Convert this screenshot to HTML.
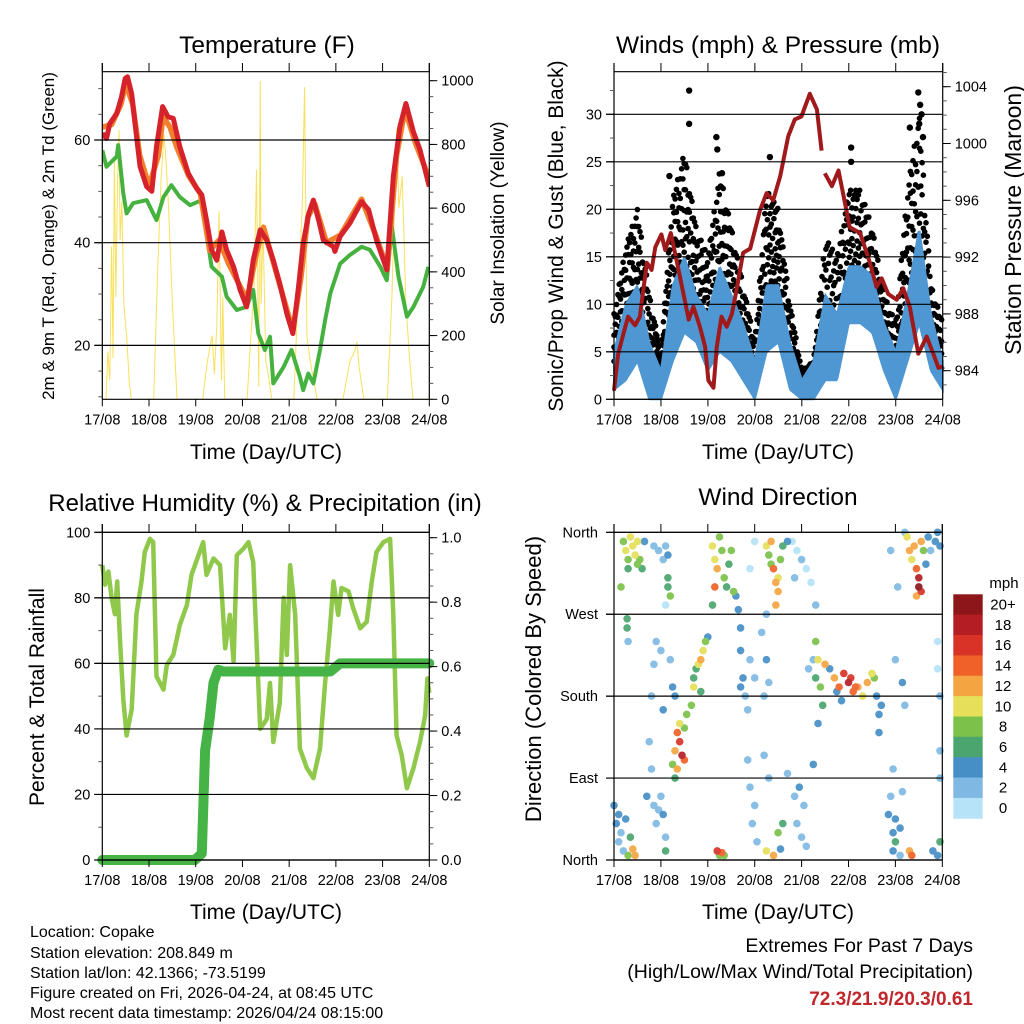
<!DOCTYPE html>
<html><head><meta charset="utf-8"><style>
html,body{margin:0;padding:0;background:#fff}
svg{display:block}
text{font-family:"Liberation Sans",sans-serif;fill:#000}
</style></head><body>
<svg id="s" width="1024" height="1024" viewBox="0 0 1024 1024" xmlns="http://www.w3.org/2000/svg">
<g id="txt">
<text x="267" y="53" font-size="24.5" text-anchor="middle">Temperature (F)</text>
<text x="778" y="53" font-size="24.5" text-anchor="middle">Winds (mph) &amp; Pressure (mb)</text>
<text x="265" y="511" font-size="24" text-anchor="middle">Relative Humidity (%) &amp; Precipitation (in)</text>
<text x="778" y="505" font-size="24.5" text-anchor="middle">Wind Direction</text>
<text x="266" y="459" font-size="21" text-anchor="middle">Time (Day/UTC)</text>
<text x="778" y="459" font-size="21" text-anchor="middle">Time (Day/UTC)</text>
<text x="266" y="919" font-size="21" text-anchor="middle">Time (Day/UTC)</text>
<text x="778" y="919" font-size="21" text-anchor="middle">Time (Day/UTC)</text>
<text transform="translate(54,236) rotate(-90)" font-size="17" text-anchor="middle">2m &amp; 9m T (Red, Orange) &amp; 2m Td (Green)</text>
<text transform="translate(504,223) rotate(-90)" font-size="19" text-anchor="middle">Solar Insolation (Yellow)</text>
<text transform="translate(563,236) rotate(-90)" font-size="21" text-anchor="middle">Sonic/Prop Wind &amp; Gust (Blue, Black)</text>
<text transform="translate(1021,220) rotate(-90)" font-size="23" text-anchor="middle">Station Pressure (Maroon)</text>
<text transform="translate(44,697) rotate(-90)" font-size="21" text-anchor="middle">Percent &amp; Total Rainfall</text>
<text transform="translate(541,679) rotate(-90)" font-size="22" text-anchor="middle">Direction (Colored By Speed)</text>
<text x="1004" y="588" font-size="15" text-anchor="middle">mph</text>
<g font-size="16">
<text x="30" y="937">Location: Copake</text>
<text x="30" y="958">Station elevation: 208.849 m</text>
<text x="30" y="978">Station lat/lon: 42.1366; -73.5199</text>
<text x="30" y="998">Figure created on Fri, 2026-04-24, at 08:45 UTC</text>
<text x="30" y="1018">Most recent data timestamp: 2026/04/24 08:15:00</text>
</g>
<text x="973" y="952" font-size="19.5" text-anchor="end">Extremes For Past 7 Days</text>
<text x="973" y="978" font-size="19.5" text-anchor="end">(High/Low/Max Wind/Total Precipitation)</text>
<text x="973" y="1005" font-size="19" font-weight="bold" text-anchor="end" style="fill:#c0282c">72.3/21.9/20.3/0.61</text>
</g>
</svg>
<script>
const days=['17/08','18/08','19/08','20/08','21/08','22/08','23/08','24/08'];
// Temperature 2m (red)
const tempT=[0,0.09,0.16,0.31,0.41,0.49,0.54,0.63,0.74,0.81,0.95,1.06,1.16,1.29,1.41,1.52,1.66,1.84,2.02,2.13,2.23,2.34,2.45,2.56,2.66,2.81,2.95,3.09,3.23,3.38,3.52,3.66,3.80,3.95,4.08,4.20,4.30,4.42,4.52,4.63,4.73,4.95,4.98,5.09,5.30,5.55,5.70,5.87,6.09,6.23,6.37,6.50,6.66,6.80,7.0];
const tempV=[61.3,60.3,63.2,65.2,68.4,72,72.3,69,60,54.8,50.9,50,58.7,66.5,64.5,64.2,58.7,53.5,50.6,49.3,44.4,38.6,36.6,42.1,38.6,35.3,30.8,27.5,36.6,42.5,40.5,36.6,32,26.2,22.3,31.4,39.9,45.7,48.3,44.4,40.5,39.2,38.3,41.2,43.8,48,46.4,40.5,34.7,52.9,62.6,67.1,61.6,58.1,50.9];
// Temperature 9m (orange)
const temp9T=[0,0.2,0.4,0.5,0.65,0.8,1.0,1.2,1.3,1.45,1.6,1.85,2.1,2.3,2.5,2.7,2.95,3.1,3.3,3.45,3.7,3.95,4.08,4.25,4.4,4.55,4.8,5.1,5.55,5.85,6.1,6.3,6.48,6.7,7.0];
const temp9V=[62.5,63,67,71,67,57,51,57,64.5,62.5,58.5,53,49.5,38.5,40.5,36,31.5,29,38,43,35,27,23,33,45,47.5,40,41.5,48.5,41.5,35,57,66,59.5,52.5];
// Dewpoint (green)
const dewT=[0,0.09,0.31,0.34,0.45,0.52,0.66,0.95,1.16,1.31,1.48,1.66,1.88,2.13,2.23,2.34,2.56,2.66,2.88,3.09,3.23,3.34,3.48,3.59,3.66,3.88,4.05,4.23,4.30,4.41,4.52,4.66,4.77,4.88,5.09,5.30,5.55,5.73,5.95,6.09,6.20,6.34,6.52,6.66,6.87,6.98];
const dewV=[58,54.8,56.8,59,49.6,45.7,47.7,48.3,44.4,48.9,51.2,48.9,47.3,48.3,41.8,35.3,33.4,29.5,26.9,27.5,30.8,22.3,19.1,21.7,12.6,15.8,19.1,13.9,11.3,14.5,12.6,19.1,24.9,30.1,35.9,37.6,39.2,38.6,35.3,32.7,43.1,33.4,25.6,27.5,31.4,35.3];
// Solar insolation (yellow)
const solT=[0,0.08,0.12,0.16,0.2,0.23,0.26,0.29,0.33,0.36,0.38,0.42,0.46,0.52,0.58,0.62,1.0,1.1,1.18,1.26,1.32,1.36,1.42,1.5,1.6,2.0,2.15,2.25,2.35,2.4,2.45,2.5,2.55,2.58,2.62,3.0,3.1,3.18,3.25,3.3,3.35,3.38,3.4,3.44,3.5,3.55,3.63,4.0,4.1,4.2,4.28,4.33,4.38,4.45,4.6,5.0,5.15,5.3,5.4,5.45,5.5,5.6,6.0,6.1,6.2,6.3,6.35,6.42,6.5,6.58,6.65,7.0];
const solV=[0,0,150,60,480,130,760,320,700,845,500,620,300,200,50,0,0,0,380,700,830,760,600,300,0,0,0,120,200,80,230,590,60,320,0,0,0,200,350,720,40,1000,300,550,120,80,0,0,0,360,600,980,200,120,0,0,0,120,150,180,100,0,0,0,320,850,600,700,300,120,0,0];
// Winds
const windT=[0,0.25,0.5,0.75,1,1.25,1.5,1.75,2,2.25,2.5,2.75,3,3.25,3.5,3.75,4,4.25,4.5,4.75,5,5.25,5.5,5.75,6,6.25,6.5,6.75,7];
const windLo=[1,2,4,0,0,4,7,6,3,5,4,2,0,5,6,1,0,0,2,2,8,8,7,3,0,4,8,3,1];
const windHi=[5,10,12,6,3,12,15,11,9,14,11,8,4,12,12,6,2,4,11,9,14,14,13,8,5,11,18,9,4];
const gustLo=[4,8,11,4,3,12,15,10,8,13,10,5,2,12,12,4,1,2,6,5,13,12,10,6,2,12,14,6,3];
const gustHi=[9,16,20,11,5,21,26,18,15,24,18,12,6,22,20,10,3,4,17,15,22,22,18,11,8,22,30,12,8];
const gustPeakT=[1.6,1.6,2.18,2.2,3.32,5.05,5.05,6.3,6.48,6.52,6.55,6.5,6.58,1.18,2.3];
const gustPeakV=[32.5,29,27.6,26.3,25.5,26.5,25,28.6,32.3,31,30,29,27.6,23.5,23.8];
// Pressure (null = gap)
const presT=[0,0.09,0.2,0.3,0.45,0.55,0.70,0.8,0.88,1.01,1.09,1.21,1.33,1.48,1.59,1.69,1.83,1.94,2.01,2.12,2.19,2.29,2.40,2.51,2.61,2.75,2.90,3.11,3.25,3.39,3.54,3.71,3.85,3.99,4.17,4.32,4.42,4.46,4.49,4.64,4.78,4.95,5.02,5.24,5.45,5.59,5.70,5.84,6.02,6.16,6.30,6.48,6.66,6.80,6.91,7.0];
const presV=[982.6,985.2,986.6,987.8,987.2,987.8,991.6,991.1,992.7,993.6,992.5,993.7,991.8,989.4,987.6,988.5,987.1,985.7,983.3,982.8,985.7,987.8,987.1,988.0,989.7,992.3,992.6,995.3,996.5,996.0,997.7,1000.5,1001.7,1001.9,1003.5,1002.4,999.5,null,997.9,997.0,998.1,995.3,994.1,993.7,991.6,989.9,990.5,989.4,989.0,989.8,988.5,985.2,986.4,985.2,984.2,984.3];
// Relative humidity
const rhT=[0,0.06,0.13,0.2,0.27,0.32,0.38,0.45,0.52,0.63,0.73,0.84,0.91,1.02,1.09,1.16,1.31,1.38,1.52,1.66,1.81,1.91,2.06,2.16,2.23,2.38,2.52,2.63,2.73,2.81,2.88,3.02,3.13,3.23,3.38,3.52,3.59,3.66,3.80,3.88,3.95,4.02,4.13,4.23,4.38,4.52,4.66,4.77,4.87,4.95,5.05,5.12,5.27,5.37,5.52,5.66,5.77,5.87,6.02,6.16,6.23,6.30,6.41,6.52,6.66,6.80,6.91,6.96,7.0];
const rhV=[90,84,88,80,75,85,66.6,49,38,46,75,85,94,98,97,56,52,59.5,62.6,71.7,77.8,87,93,97,87,92,90,64.6,74.8,60.5,93,95,97,91,40,43,54,36,48,80,62.6,90,74.8,34,28,25,34,54,70,85,74.8,83,82,76.8,70.7,72.7,85,94,97,98,74.8,38,32,21.9,28,36,44,55.4,51];
// Precipitation total
const prT=[0,1.98,2.13,2.2,2.3,2.38,2.48,2.59,4.88,5.09,7.0];
const prV=[0,0,0.02,0.34,0.44,0.55,0.59,0.585,0.585,0.61,0.61];
// Wind direction scatter: time (days), direction (deg), speed (mph)
const dirT=[0.2,0.25,0.3,0.3,0.35,0.4,0.45,0.5,0.5,0.55,0.6,0.65,0.15,0.28,0.28,0.3,0.0,0.05,0.1,0.1,0.15,0.2,0.3,0.4,0.45,0.35,0.25,0.85,0.95,1.05,1.1,1.15,1.15,1.15,1.2,1.1,0.75,0.8,0.85,0.9,0.95,1.0,1.05,0.7,0.85,0.8,0.9,1.0,1.05,1.1,1.1,1.25,1.3,1.35,1.4,1.45,1.5,1.35,1.4,1.3,1.5,1.55,1.3,1.25,1.2,1.65,1.7,1.7,1.8,1.85,1.9,1.95,2.0,1.75,1.85,2.1,2.15,2.2,2.25,2.3,2.35,2.4,2.45,2.5,2.55,2.6,2.1,2.15,2.65,2.2,2.25,2.3,2.35,2.7,2.7,2.75,2.7,2.8,2.85,2.9,3.0,2.85,2.9,3.0,2.95,3.05,3.0,2.9,3.25,3.3,3.35,3.4,3.45,3.5,3.55,3.6,3.5,3.45,3.35,3.7,3.25,3.25,3.4,3.5,3.6,3.55,3.15,3.25,3.3,3.2,3.2,3.3,3.8,3.9,4.0,4.1,4.2,3.85,4.3,3.85,3.9,4.0,4.05,4.1,3.95,3.7,4.25,4.3,4.35,4.3,4.4,4.45,4.25,4.15,4.35,4.5,4.6,4.7,4.8,4.9,5.0,5.1,5.2,5.3,5.4,5.5,5.55,4.75,5.05,5.15,4.85,5.6,5.65,5.7,5.65,5.95,5.9,5.85,5.95,6.0,6.1,6.0,6.1,5.95,6.0,5.9,6.05,6.15,6.2,6.15,6.25,6.3,6.35,6.4,6.45,6.5,6.5,6.55,6.45,6.55,6.6,6.65,6.7,6.75,6.3,6.35,6.2,6.85,6.9,6.95,6.8,6.9,6.95,6.95,6.9,6.95,6.95,6.9];
const dirV=[350,340,330,320,355,345,335,350,325,330,320,350,300,265,255,240,60,40,20,50,30,10,5,12,5,25,45,345,340,330,345,335,310,300,290,280,130,100,60,40,55,70,50,70,215,180,240,230,165,25,10,105,120,140,130,115,110,100,150,90,145,160,180,190,220,170,190,200,215,220,230,240,245,210,185,345,330,320,355,340,310,300,325,340,295,290,280,300,275,10,5,8,5,255,230,200,190,180,165,220,200,110,80,60,40,20,350,320,345,335,350,320,305,295,330,345,310,280,325,350,270,10,5,30,40,12,250,220,195,180,115,90,350,340,330,320,305,310,280,70,40,25,60,15,80,95,105,240,220,200,190,170,220,210,150,215,210,200,190,205,195,185,190,180,195,205,200,185,200,190,175,180,160,170,140,100,70,50,30,45,35,20,5,10,220,340,300,195,170,75,355,340,330,345,320,310,300,295,290,350,340,325,355,340,10,5,360,350,360,345,10,5,20,180,210,120,90,240];
const dirS=[8,9,7,6,10,10,9,10,8,7,6,3,8,6,6,1,4,4,2,3,2,2,8,12,12,6,4,1,1,1,2,4,6,6,8,0,2,1,2,2,2,2,3,4,1,2,2,1,4,2,6,8,12,14,16,18,14,12,10,6,8,8,4,4,1,8,10,6,10,12,10,8,4,6,6,10,10,12,8,7,8,6,6,7,8,4,5,14,3,16,8,14,7,4,4,4,4,2,1,2,1,1,2,2,2,1,0,0,10,8,12,14,12,12,8,6,10,12,7,4,1,10,12,8,6,4,2,4,2,2,2,2,0,0,1,0,0,1,2,2,2,1,2,1,4,2,4,8,10,6,8,6,2,1,4,12,4,12,14,16,18,14,12,10,12,10,8,4,16,14,4,4,4,4,4,1,2,4,4,4,4,6,2,4,1,1,2,4,1,2,10,12,10,12,14,18,20,16,12,12,8,4,4,2,12,14,1,4,4,4,4,4,6,1,0,2,1,0];
const spdLevels=[0,2,4,6,8,10,12,14,16,18,20];
const spdColors=['#b6e3f7','#7fb9e3','#468fc6','#4aa56e','#7cc24a','#e5df5a','#f5a442','#ef6128','#d93328','#b51d25','#8c1619'];
const spdLabels=['0','2','4','6','8','10','12','14','16','18','20+'];

const NS='http://www.w3.org/2000/svg';
const svg=document.getElementById('s');
function mk(tag,attrs,parent){const e=document.createElementNS(NS,tag);for(const k in attrs)e.setAttribute(k,attrs[k]);(parent||svg).appendChild(e);return e;}
function interp(ts,vs,t){for(let i=1;i<ts.length;i++){if(t<=ts[i]){const f=(t-ts[i-1])/(ts[i]-ts[i-1]||1);return vs[i-1]+f*(vs[i]-vs[i-1]);}}return vs[vs.length-1];}
function pathFrom(ts,vs,fx,fy){let d='',pen=false;for(let i=0;i<ts.length;i++){if(vs[i]===null){pen=false;continue;}d+=(pen?'L':'M')+fx(ts[i]).toFixed(1)+','+fy(vs[i]).toFixed(1);pen=true;}return d;}

function frame(g,L,R,T,B,top){
  mk('line',{x1:L,y1:top,x2:L,y2:B,stroke:'#000','stroke-width':1.2},g);
  mk('line',{x1:R,y1:top,x2:R,y2:B,stroke:'#000','stroke-width':1.2},g);
  mk('line',{x1:L,y1:B,x2:R,y2:B,stroke:'#000','stroke-width':1.2},g);
  mk('line',{x1:L,y1:T,x2:R,y2:T,stroke:'#000','stroke-width':1.2},g);
  for(let i=0;i<days.length;i++){
    const x=L+i/7*(R-L);
    mk('line',{x1:x,y1:B,x2:x,y2:B+7,stroke:'#000','stroke-width':1},g);
    mk('line',{x1:x,y1:top,x2:x,y2:T,stroke:'#000','stroke-width':1},g);
    const t=mk('text',{x:x,y:B+25,'font-size':14.5,'text-anchor':'middle'},g);
    t.textContent=days[i];
    
    
  }
}
function yAxis(g,side,x,L,R,ticks,labels,fy,minors,grid,lblOffset){
  const dir=side==='left'?-1:1;
  minors.forEach(v=>{const y=fy(v);mk('line',{x1:x,y1:y,x2:x+dir*4,y2:y,stroke:'#555','stroke-width':1},g);});
  ticks.forEach((v,i)=>{const y=fy(v);
    mk('line',{x1:x,y1:y,x2:x+dir*8,y2:y,stroke:'#000','stroke-width':1},g);
    if(grid)mk('line',{x1:L-8,y1:y,x2:R,y2:y,stroke:'#000','stroke-width':1.2},g);
    const t=mk('text',{x:x+dir*(lblOffset||12),y:y+5,'font-size':14.5,'text-anchor':side==='left'?'end':'start'},g);
    t.textContent=labels[i];
    
    
  });
}
function range(a,b,s){const r=[];for(let v=a;v<=b+1e-9;v+=s)r.push(+v.toFixed(4));return r;}

// ---------- Panel 1: Temperature ----------
{
const L=102.3,R=429.3,T=71.7,B=399.3;
const g=mk('g',{});


const fx=t=>L+t/7*(R-L);
const fy=v=>345.4-(v-20)*5.135;
const fs=v=>B-v*0.3186;
const cp=mk('clipPath',{id:'c1'});mk('rect',{x:L,y:T-5,width:R-L,height:B-T+5},cp);
const dg=mk('g',{'clip-path':'url(#c1)'},g);
const ys=mk('path',{d:pathFrom(solT,solV,fx,fs),fill:'none',stroke:'#f9e05b','stroke-width':1},dg);

const gr=mk('path',{d:pathFrom(dewT,dewV,fx,fy),fill:'none',stroke:'#45b23f','stroke-width':4,'stroke-linejoin':'round'},dg);

const or=mk('path',{d:pathFrom(temp9T,temp9V,fx,fy),fill:'none',stroke:'#f27f2b','stroke-width':5.5,'stroke-linejoin':'round'},dg);

const rd=mk('path',{d:pathFrom(tempT,tempV,fx,fy),fill:'none',stroke:'#d6222a','stroke-width':5,'stroke-linejoin':'round'},dg);

frame(g,L,R,T,B,63);
yAxis(g,'left',L,L,R,[20,40,60],['20','40','60'],fy,range(10,70,5),true);
yAxis(g,'right',R,L,R,[0,200,400,600,800,1000],['0','200','400','600','800','1000'],fs,range(0,1000,50),false);
}
// ---------- Panel 2: Winds ----------
{
const L=614,R=942.7,T=71.7,B=399.3;
const g=mk('g',{});


const fx=t=>L+t/7*(R-L);
const fy=v=>B-v*9.5;
const fp=p=>370.7-(p-984)*14.2;
const cp=mk('clipPath',{id:'c2'});mk('rect',{x:L-3,y:T,width:R-L+6,height:B-T+3},cp);
const dg=mk('g',{'clip-path':'url(#c2)'},g);
const gg=mk('g',{fill:'#000'},dg);

const fr=[0,0.55,1,0.3,0.8,0.15,0.65,0.45,0.9,0.05,0.7,0.38,0.95,0.22];
let k=0;
for(let px=0;px<=R-L;px+=1.3){
  const t=px/(R-L)*7, lo=interp(windT,gustLo,t), hi=interp(windT,gustHi,t);
  for(let j=0;j<4;j++){const f=fr[(k++)%fr.length];mk('circle',{cx:(L+px).toFixed(1),cy:fy(lo+(hi-lo)*f).toFixed(1),r:2.8},gg);}
}
for(let i=0;i<gustPeakT.length;i++){const c=mk('circle',{cx:fx(gustPeakT[i]),cy:fy(gustPeakV[i]),r:3.2,fill:'#000'},dg);}
let up='',dn='';
const N=300;
for(let i=0;i<=N;i++){const t=i/N*7;up+=(i?'L':'M')+fx(t).toFixed(1)+','+fy(interp(windT,windHi,t)).toFixed(1);}
for(let i=N;i>=0;i--){const t=i/N*7;dn+='L'+fx(t).toFixed(1)+','+fy(interp(windT,windLo,t)).toFixed(1);}
const band=mk('path',{d:up+dn+'Z',fill:'#4f97d2',stroke:'#4f97d2','stroke-width':2},dg);

const pl=mk('path',{d:pathFrom(presT,presV,fx,fp),fill:'none',stroke:'#a01a1c','stroke-width':4,'stroke-linejoin':'round'},dg);

frame(g,L,R,T,B,63);
yAxis(g,'left',L,L,R,[0,5,10,15,20,25,30],['0','5','10','15','20','25','30'],fy,range(0,32.5,2.5),true);
yAxis(g,'right',R,L,R,[984,988,992,996,1000,1004],['984','988','992','996','1000','1004'],fp,range(983,1005,1),false);
}
// ---------- Panel 3: RH & Precip ----------
{
const L=102.3,R=429.3,T=532.3,B=860;
const g=mk('g',{});


const fx=t=>L+t/7*(R-L);
const fy=v=>B-v*3.277;
const fr=v=>B-v*322.3;
const rh=mk('path',{d:pathFrom(rhT,rhV,fx,fy),fill:'none',stroke:'#8fc84b','stroke-width':4.5,'stroke-linejoin':'round'},g);

const pr=mk('path',{d:pathFrom(prT,prV,fx,fr),fill:'none',stroke:'#46b346','stroke-width':10,'stroke-linejoin':'round','stroke-linecap':'round'},g);

frame(g,L,R,T,B,524);
yAxis(g,'left',L,L,R,[0,20,40,60,80,100],['0','20','40','60','80','100'],fy,range(0,100,10),true);
yAxis(g,'right',R,L,R,[0,0.2,0.4,0.6,0.8,1.0],['0.0','0.2','0.4','0.6','0.8','1.0'],fr,range(0,1.0,0.05),false);
}
// ---------- Panel 4: Wind direction ----------
{
const L=614,R=942.3,T=532.3,B=860;
const g=mk('g',{});


const fx=t=>L+t/7*(R-L);
const fy=d=>B-d/360*(B-T);
function col(s){let i=0;for(let j=0;j<spdLevels.length;j++)if(s>=spdLevels[j]-1)i=j;return spdColors[i];}
const dg=mk('g',{opacity:0.92},g);
const order=dirS.map((s,i)=>i).sort((a,b)=>dirS[a]-dirS[b]);
order.forEach(i=>{
  const c=mk('circle',{cx:fx(dirT[i]).toFixed(1),cy:fy(dirV[i]).toFixed(1),r:3.8,fill:col(dirS[i])},dg);
  
  
});
frame(g,L,R,T,B,524);
yAxis(g,'left',L,L,R,[0,90,180,270,360],['North','East','South','West','North'],fy,[],true,16);
const cb=mk('g',{},g);

const cT=594.3,cH=20.36;
for(let i=0;i<spdColors.length;i++){
  const idx=spdColors.length-1-i;
  const r=mk('rect',{x:953.3,y:(cT+i*cH).toFixed(1),width:29.4,height:cH+0.5,fill:spdColors[idx]},cb);
  
  const t=mk('text',{x:1003,y:(cT+i*cH+cH/2+5).toFixed(1),'font-size':15,'text-anchor':'middle'},cb);
  t.textContent=spdLabels[idx];
  
}
}
</script>
</body></html>
